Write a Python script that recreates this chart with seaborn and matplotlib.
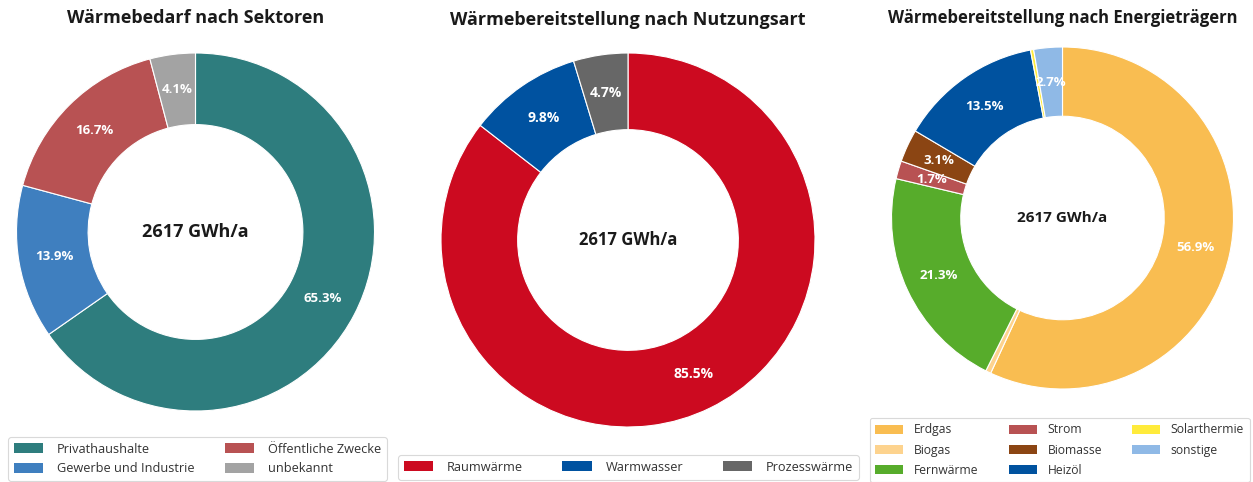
import matplotlib
matplotlib.use("Agg")
import matplotlib.pyplot as plt
import seaborn as sns

sns.set_theme(style="white")
plt.rcParams['font.family'] = ['Open Sans', 'DejaVu Sans']

# ---- data ----
center_text = "2617 GWh/a"

sek_title = "Wärmebedarf nach Sektoren"
sek_labels = ["Privathaushalte", "Gewerbe und Industrie", "Öffentliche Zwecke", "unbekannt"]
sek_values = [65.3, 13.9, 16.7, 4.1]
sek_colors = ["#2E7D7E", "#3F7FBF", "#B85253", "#A3A3A3"]

nutz_title = "Wärmebereitstellung nach Nutzungsart"
nutz_labels = ["Raumwärme", "Warmwasser", "Prozesswärme"]
nutz_values = [85.5, 9.8, 4.7]
nutz_colors = ["#CC0A20", "#0052A0", "#676767"]

et_title = "Wärmebereitstellung nach Energieträgern"
et_labels = ["Erdgas", "Biogas", "Fernwärme", "Strom", "Biomasse", "Heizöl", "Solarthermie", "sonstige"]
et_values = [56.9, 0.5, 21.3, 1.7, 3.1, 13.5, 0.3, 2.7]
et_colors = ["#F9BD51", "#FDD38E", "#57AC2B", "#B85253", "#8B4513", "#00529F", "#FFEB3B", "#8FB9E6"]

W, H = 1253, 482
fig = plt.figure(figsize=(W / 100, H / 100), dpi=100)


def donut(cx, cy, R, ratio, title, labels, values, colors, ncol, leg_box, title_y,
          title_fs, center_fs, pct_fs, labelspacing, leg_fs=9.2, textpad=1.1,
          expand=True, colspacing=1.0):
    ax = fig.add_axes([(cx - R) / W, (H - cy - R) / H, 2 * R / W, 2 * R / H])
    pal = sns.color_palette(colors)
    wedges, texts, autotexts = ax.pie(
        values, colors=pal, startangle=90, counterclock=False,
        radius=1, wedgeprops=dict(width=1 - ratio, edgecolor="white", linewidth=0.8),
        autopct=lambda p: f"{p:.1f}%" if p >= 1.0 else "",
        pctdistance=(1 + ratio) / 2,
        textprops=dict(color="white", fontsize=pct_fs, fontweight="bold"))
    ax.set_xlim(-1, 1)
    ax.set_ylim(-1, 1)
    ax.set_aspect("equal")
    ax.axis("off")
    ax.text(0, 0, center_text, ha="center", va="center", fontsize=center_fs,
            fontweight="bold", color="#1a1a1a")
    fig.text(cx / W, 1 - title_y / H, title, ha="center", va="center",
             fontsize=title_fs, fontweight="bold", color="#1a1a1a")
    x0, ytop, w = leg_box
    if expand:
        anchor = (x0 / W, 0, w / W, 1 - ytop / H)
    else:
        anchor = (x0 / W, 1 - ytop / H)
    leg = fig.legend(wedges, labels, loc="upper left",
                     bbox_to_anchor=anchor,
                     mode="expand" if expand else None, ncol=ncol,
                     fontsize=leg_fs, frameon=True,
                     fancybox=True, edgecolor="#d0d0d0", handlelength=2.3,
                     handleheight=0.8, handletextpad=textpad,
                     labelspacing=labelspacing, borderpad=0.45,
                     borderaxespad=0, columnspacing=colspacing)
    leg.get_frame().set_linewidth(0.8)
    for h in leg.legend_handles:
        h.set_edgecolor("none")
    for t in leg.get_texts():
        t.set_color("#333333")


donut(195.5, 232, 179, 0.6, sek_title, sek_labels, sek_values, sek_colors, 2,
      (8, 437, 379), 18, 13, 13, 9.5, 0.5)
donut(628, 240, 187, 0.59, nutz_title, nutz_labels, nutz_values, nutz_colors, 3,
      (398, 455, 461), 20, 13, 12, 10, 0.5)
donut(1062.5, 218, 171, 0.595, et_title, et_labels, et_values, et_colors, 3,
      (870, 418, 390), 18, 12, 11, 9.5, 0.6, leg_fs=8.7, textpad=0.9,
      expand=False, colspacing=2.5)

fig.savefig("out.png", dpi=100, facecolor="white")
